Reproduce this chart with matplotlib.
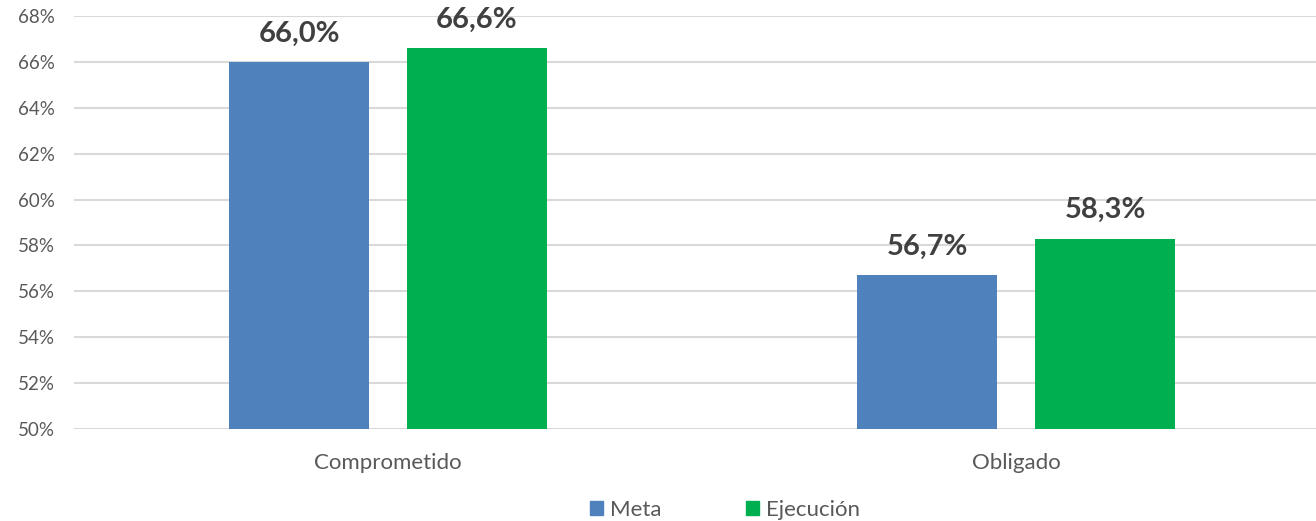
import numpy as np
import matplotlib.pyplot as plt
from matplotlib.patches import Patch

categories = ['Comprometido', 'Obligado']
series_names = ['Meta', 'Ejecución']
meta = [66.0, 56.7]
ejecucion = [66.6, 58.3]
yticks = [50, 52, 54, 56, 58, 60, 62, 64, 66, 68]

plt.rcParams['font.family'] = ['Lato', 'DejaVu Sans']

colors = ['#4F81BD', '#00B050']

fig = plt.figure(figsize=(13.16, 5.21), dpi=100)
# axes runs a bit past the right edge, like the original
ax = fig.add_axes([74 / 1316, 92 / 521, 1256 / 1316, 413 / 521])

x = np.arange(len(categories))
width = 0.223
offset = 0.1417

for vals, off, col in [(meta, -offset, colors[0]), (ejecucion, offset, colors[1])]:
  bars = ax.bar(x + off, np.array(vals) - 50, bottom=50, width=width, color=col, zorder=3)
  for b, v in zip(bars, vals):
    ax.annotate(('%.1f%%' % v).replace('.', ','), (b.get_x() + b.get_width() / 2, v),
                xytext=(0, 11), textcoords='offset points', ha='center', va='bottom',
                fontsize=21, fontweight='bold', color='#404040')

ax.set_xlim(-0.5, 1.5)
ax.set_ylim(50, 68)
ax.set_yticks(yticks)
ax.set_yticklabels(['%d%%' % t for t in yticks])
ax.set_xticks(x)
ax.set_xticklabels(categories)
ax.tick_params(axis='both', length=0, labelsize=13.5, labelcolor='#595959')
ax.tick_params(axis='x', pad=17, labelsize=16)
ax.tick_params(axis='y', pad=14)
ax.grid(axis='y', color='#D9D9D9', linewidth=1.5, zorder=0)
for s in ax.spines.values():
  s.set_visible(False)

handles = [Patch(color=c) for c in colors]
fig.legend(handles, series_names, loc='center', bbox_to_anchor=(725 / 1316, 11 / 521),
           ncol=2, frameon=False, fontsize=16, labelcolor='#595959',
           handlelength=0.6, handleheight=0.6, handletextpad=0.3, columnspacing=3.8)

fig.savefig('out.png', dpi=100)
